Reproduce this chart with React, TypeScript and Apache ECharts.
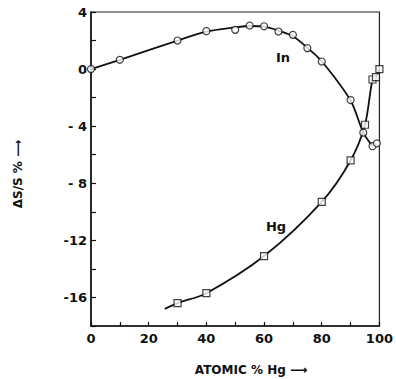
import React, { useEffect, useRef } from "react";
import * as echarts from "echarts";

// Composition (atomic % Hg) and ΔS/S (%) for the In-rich branch
const inX = [0, 10, 30, 40, 50, 55, 60, 65, 70, 75, 80, 90, 94.4, 97.6, 99.1];
const inY = [0, 0.65, 2.0, 2.66, 2.75, 3.05, 3.0, 2.63, 2.4, 1.47, 0.53, -2.17, -4.45, -5.4, -5.2];
// Hand-fitted curve through the In points
const inCurveX = [0, 10, 30, 40, 50, 55, 60, 65, 70, 75, 80, 90, 94.4, 97.6];
const inCurveY = [0, 0.65, 2.0, 2.62, 2.92, 3.02, 2.98, 2.7, 2.3, 1.5, 0.55, -2.2, -4.45, -5.4];

// Hg-rich branch
const hgX = [30, 40, 60, 80, 90, 95, 97.6, 98.8, 100];
const hgY = [-16.4, -15.7, -13.1, -9.3, -6.4, -3.9, -0.73, -0.56, 0];
const hgCurveX = [25.6, 30, 40, 60, 80, 90, 95, 97.6, 98.8, 100];
const hgCurveY = [-16.8, -16.4, -15.7, -13.1, -9.3, -6.4, -3.9, -0.73, -0.56, 0];

const xTicks = [0, 20, 40, 60, 80, 100];
const yTicks = [4, 0, -4, -8, -12, -16];

const zip = (xs: number[], ys: number[]) => xs.map((x, i) => [x, ys[i]]);

const FONT = "DejaVu Sans";

export default function App() {
  const ref = useRef<HTMLDivElement>(null);

  useEffect(() => {
    if (!ref.current) return;
    const chart = echarts.init(ref.current, null, { renderer: "svg" });
    const labelStyle = {
      color: "#111",
      fontFamily: FONT,
      fontWeight: "bold" as const,
      fontSize: 13,
    };
    chart.setOption({
      animation: false,
      backgroundColor: "#fff",
      grid: {
        left: 91,
        right: 13,
        top: 12,
        bottom: 53,
        show: true,
        borderColor: "#222",
        borderWidth: 1.2,
      },
      xAxis: {
        type: "value",
        min: 0,
        max: 100,
        interval: 10,
        axisLine: { show: true, onZero: false, lineStyle: { color: "#111", width: 1.5 } },
        axisTick: { show: true, inside: true, length: 4, lineStyle: { color: "#111", width: 1.2 } },
        splitLine: { show: false },
        axisLabel: {
          ...labelStyle,
          margin: 6,
          formatter: (v: number) => (xTicks.includes(v) ? String(v) : ""),
        },
      },
      yAxis: {
        type: "value",
        min: -18,
        max: 4,
        interval: 2,
        axisLine: { show: true, onZero: false, lineStyle: { color: "#111", width: 1.5 } },
        axisTick: { show: true, inside: true, length: 5, lineStyle: { color: "#111", width: 1.2 } },
        splitLine: { show: false },
        axisLabel: {
          ...labelStyle,
          margin: 4,
          formatter: (v: number) => {
            if (!yTicks.includes(v)) return "";
            if (v < 0 && v > -10) return "- " + Math.abs(v);
            return String(v);
          },
        },
      },
      series: [
        {
          type: "line",
          data: zip(inCurveX, inCurveY),
          smooth: 0.3,
          symbol: "none",
          lineStyle: { color: "#111", width: 1.8 },
          z: 2,
        },
        {
          type: "line",
          data: zip(hgCurveX, hgCurveY),
          smooth: 0.3,
          symbol: "none",
          lineStyle: { color: "#111", width: 1.8 },
          z: 2,
        },
        {
          type: "scatter",
          data: zip(inX, inY),
          symbol: "circle",
          symbolSize: 7,
          itemStyle: { color: "#fff", borderColor: "#111", borderWidth: 1.2 },
          z: 3,
        },
        {
          type: "scatter",
          data: zip(hgX, hgY),
          symbol: "rect",
          symbolSize: 7,
          itemStyle: { color: "#fff", borderColor: "#111", borderWidth: 1.2 },
          z: 3,
        },
      ],
      graphic: [
        {
          type: "text",
          x: 283,
          y: 57,
          style: { text: "In", ...labelStyle, fontSize: 13, fill: "#111", align: "center", verticalAlign: "middle" },
        },
        {
          type: "text",
          x: 276,
          y: 226,
          style: { text: "Hg", ...labelStyle, fontSize: 13, fill: "#111", align: "center", verticalAlign: "middle" },
        },
        {
          type: "text",
          x: 251,
          y: 370,
          style: { text: "ATOMIC % Hg ⟶", ...labelStyle, fontSize: 12, fill: "#111", align: "center", verticalAlign: "middle" },
        },
        {
          type: "text",
          x: 18,
          y: 174,
          rotation: Math.PI / 2,
          style: { text: "ΔS/S % ⟶", ...labelStyle, fontSize: 12, fill: "#111", align: "center", verticalAlign: "middle" },
        },
      ],
    });
    return () => chart.dispose();
  }, []);

  return <div ref={ref} style={{ width: 396, height: 379, position: "absolute", left: 0, top: 0 }} />;
}
